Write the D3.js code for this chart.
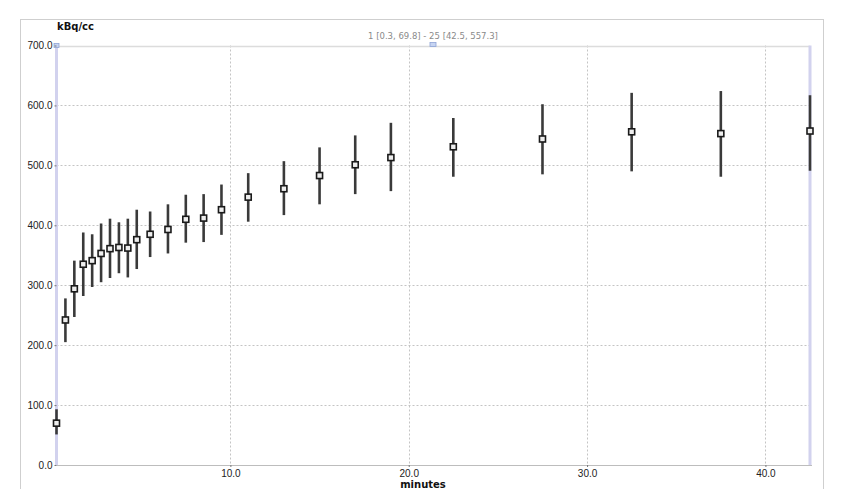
<!DOCTYPE html>
<html><head><meta charset="utf-8">
<script src="https://cdn.jsdelivr.net/npm/d3@7"></script>
<style>
body{margin:0;background:#fff;}
svg{display:block;font-family:"DejaVu Sans",sans-serif;}
</style></head>
<body><svg id="c" width="841" height="489"></svg>
<script>
// Frame mid-times (minutes)
const minutes = [0.25,0.75,1.25,1.75,2.25,2.75,3.25,3.75,4.25,4.75,5.5,6.5,7.5,8.5,9.5,11,13,15,17,19,22.5,27.5,32.5,37.5,42.5];
// Mean activity (kBq/cc)
const values = [69.8,242,294,335,341,353,361,363,362,376,385,393,410,412,426,447,461,483,501,513,531,544,556,553,557.3];
// Error bar limits
const lows  = [51,205,247,282,297,305,312,320,313,327,347,353,371,372,384,406,417,435,452,457,481,485,490,481,491];
const highs = [93,278,341,388,385,403,411,405,411,426,423,435,451,452,468,487,507,530,550,571,579,602,621,624,617];
const yTicks = [0,100,200,300,400,500,600,700];
const xTicks = [10,20,30,40];
const rangeLabel = "1 [0.3, 69.8] - 25 [42.5, 557.3]";

const svg = d3.select("#c");
const x = d3.scaleLinear().domain([0.25,42.5]).range([56.5,810]);
const y = d3.scaleLinear().domain([0,700]).range([465,45.5]);

// outer frame
svg.append("rect").attr("x",20.5).attr("y",19.5).attr("width",803).attr("height",480)
  .attr("fill","none").attr("stroke","#cfcfcf");

// grid
svg.append("g").selectAll("line").data(yTicks.filter(d=>d>0&&d<700)).join("line")
  .attr("x1",x.range()[0]).attr("x2",x.range()[1])
  .attr("y1",d=>Math.round(y(d))+0.5).attr("y2",d=>Math.round(y(d))+0.5)
  .attr("stroke","#c4c4c4").attr("stroke-dasharray","2,2");
svg.append("g").selectAll("line").data(xTicks).join("line")
  .attr("x1",d=>Math.round(x(d))+0.5).attr("x2",d=>Math.round(x(d))+0.5)
  .attr("y1",y(700)).attr("y2",y(0))
  .attr("stroke","#c4c4c4").attr("stroke-dasharray","2,2");

// top line and bottom axis line
svg.append("line").attr("x1",x.range()[0]).attr("x2",x.range()[1])
  .attr("y1",Math.round(y(700))+0.5).attr("y2",Math.round(y(700))+0.5)
  .attr("stroke","#dcdcdc").attr("stroke-width",1.5);
svg.append("line").attr("x1",x.range()[0]).attr("x2",x.range()[1]+2)
  .attr("y1",Math.round(y(0))+0.5).attr("y2",Math.round(y(0))+0.5)
  .attr("stroke","#bdbdbd");

// range selection lines
[minutes[0], minutes[minutes.length-1]].forEach(m=>{
  svg.append("line").attr("x1",x(m)).attr("x2",x(m)).attr("y1",y(700)).attr("y2",y(0))
    .attr("stroke","#d2d2ee").attr("stroke-width",3);
});
// handles
svg.append("rect").attr("x",x(minutes[0])-2.5).attr("y",y(700)-2).attr("width",5).attr("height",4)
  .attr("fill","#c6d4f2").attr("stroke","#8ea3d6").attr("stroke-width",0.8);
svg.append("rect").attr("x",433-3).attr("y",y(700)-3).attr("width",6).attr("height",4)
  .attr("fill","#c6d4f2").attr("stroke","#8ea3d6").attr("stroke-width",0.8);
svg.append("text").attr("x",433).attr("y",39).attr("text-anchor","middle")
  .attr("font-size",8.5).attr("fill","#8a8a8a").text(rangeLabel);

// axes
const ya = svg.append("g").attr("transform",`translate(${x.range()[0]},0)`)
  .call(d3.axisLeft(y).tickValues(yTicks).tickFormat(d3.format(".1f")).tickSize(2).tickPadding(2));
ya.select(".domain").remove();
ya.selectAll("text").attr("font-size",10).attr("fill","#222");
ya.selectAll("line").attr("stroke","#777");
const xa = svg.append("g").attr("transform",`translate(0,${y(0)})`)
  .call(d3.axisBottom(x).tickValues(xTicks).tickFormat(d3.format(".1f")).tickSize(2).tickPadding(3));
xa.select(".domain").remove();
xa.selectAll("text").attr("font-size",10).attr("fill","#222");
xa.selectAll("line").attr("stroke","#777");

svg.append("text").attr("x",57).attr("y",30).attr("font-size",10).attr("font-weight","bold")
  .attr("fill","#111").text("kBq/cc");
svg.append("text").attr("x",423).attr("y",488).attr("text-anchor","middle").attr("font-size",10)
  .attr("font-weight","bold").attr("fill","#111").text("minutes");

// error bars
const pts = minutes.map((m,i)=>({m, v:values[i], lo:lows[i], hi:highs[i]}));
svg.append("g").selectAll("line").data(pts).join("line")
  .attr("x1",d=>x(d.m)).attr("x2",d=>x(d.m)).attr("y1",d=>y(d.lo)).attr("y2",d=>y(d.hi))
  .attr("stroke","#3a3a3a").attr("stroke-width",2.6);
// markers
svg.append("g").selectAll("rect").data(pts).join("rect")
  .attr("x",d=>x(d.m)-3).attr("y",d=>y(d.v)-3).attr("width",6).attr("height",6)
  .attr("fill","#eee").attr("stroke","#1a1a1a").attr("stroke-width",1.6);
</script></body></html>
